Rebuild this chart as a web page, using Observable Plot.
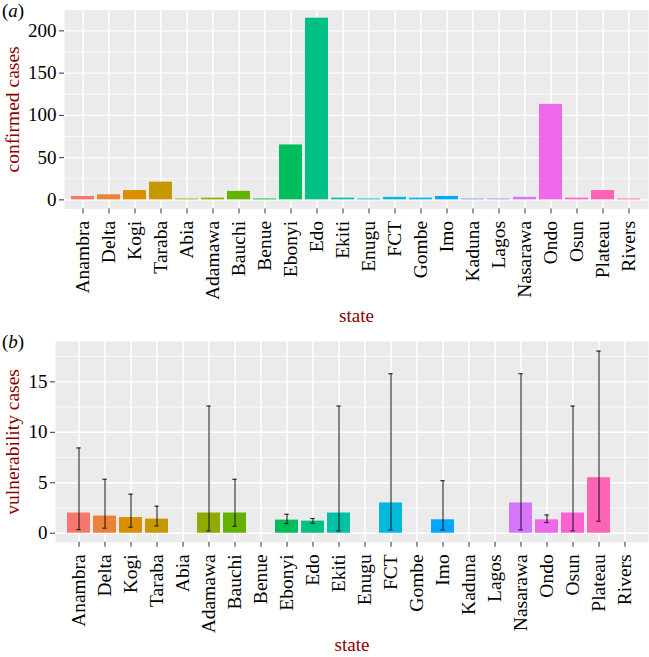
<!DOCTYPE html>
<html>
<head>
<meta charset="utf-8">
<script src="https://cdn.jsdelivr.net/npm/d3@7"></script>
<script src="https://cdn.jsdelivr.net/npm/@observablehq/plot@0.6"></script>
<style>
  html, body { margin: 0; padding: 0; background: white; }
  #wrap { position: relative; width: 649px; height: 657px; font-family: "Liberation Serif", serif; }
  #wrap svg { display: block; }
  #wrap svg text { font-family: "Liberation Serif", serif; }
  .panel-tag { position: absolute; left: 2px; font-size: 19px; color: black; line-height: 1; }
</style>
</head>
<body>
<div id="wrap">
  <div id="top"></div>
  <div id="bottom"></div>
  <div class="panel-tag" style="top:1px">(<i>a</i>)</div>
  <div class="panel-tag" style="top:332px">(<i>b</i>)</div>
</div>
<script>
// ---- data ----
const states = ["Anambra","Delta","Kogi","Taraba","Abia","Adamawa","Bauchi","Benue","Ebonyi","Edo","Ekiti","Enugu","FCT","Gombe","Imo","Kaduna","Lagos","Nasarawa","Ondo","Osun","Plateau","Rivers"];
const confirmed = [4, 6, 11, 21, 1, 2, 10, 1, 65, 215, 2, 1, 3, 2, 4, 1, 1, 3, 113, 2, 11, 1];
const vulnMean  = [2.0, 1.7, 1.55, 1.4, null, 2.0, 2.0, null, 1.3, 1.2, 2.0, null, 3.0, null, 1.33, null, null, 3.0, 1.33, 2.0, 5.5, null];
const vulnLower = [0.35, 0.5, 0.6, 0.72, null, 0.23, 0.69, null, 0.95, 0.99, 0.23, null, 0.33, null, 0.33, null, null, 0.33, 1.05, 0.23, 1.19, null];
const vulnUpper = [8.45, 5.35, 3.87, 2.68, null, 12.6, 5.35, null, 1.88, 1.45, 12.6, null, 15.8, null, 5.2, null, null, 15.8, 1.81, 12.6, 18.05, null];
const ticksA = [0, 50, 100, 150, 200];
const minorA = [25, 75, 125, 175];
const ticksB = [0, 5, 10, 15];
const minorB = [2.5, 7.5, 12.5, 17.5];

// ---- ggplot2 default hue palette (polar LUV, c=100, l=65) ----
function hclLuv(h, c, l) {
  const hr = h * Math.PI / 180;
  const U = c * Math.cos(hr), V = c * Math.sin(hr), L = l;
  const Y = 100 * (L > 7.999592 ? Math.pow((L + 16) / 116, 3) : L / 903.3);
  const u = U / (13 * L) + 0.1978398;
  const v = V / (13 * L) + 0.4683363;
  const X = 9.0 * Y * u / (4 * v);
  const Z = -X / 3 - 5 * Y + 3 * Y / v;
  const g = t => { t = t > 0.00304 ? 1.055 * Math.pow(t, 1 / 2.4) - 0.055 : 12.92 * t; return Math.max(0, Math.min(1, t)); };
  const r = g(( 3.240479 * X - 1.537150 * Y - 0.498535 * Z) / 100);
  const gg = g((-0.969256 * X + 1.875992 * Y + 0.041556 * Z) / 100);
  const b = g(( 0.055648 * X - 0.204043 * Y + 1.057311 * Z) / 100);
  return d3.rgb(r * 255, gg * 255, b * 255).formatHex();
}
const n = states.length;
const palette = d3.range(n).map(i => hclLuv((15 + i * 360 / n) % 360, 100, 65));

const dataA = states.map((s, i) => ({state: s, value: confirmed[i]}));
const dataB = states.map((s, i) => ({state: s, mean: vulnMean[i], lo: vulnLower[i], hi: vulnUpper[i]})).filter(d => d.mean != null);

const FONT = '"Liberation Serif", serif';
const TITLE = "#8B0000";

function panel({data, marginLeft, marginTop, marginBottom, height, yDomain, ticks, minor, ytitle, yfield, titleDy, errors}) {
  const marks = [
    Plot.frame({fill: "#EBEBEB", stroke: null}),
    Plot.ruleY(minor, {stroke: "white", strokeWidth: 0.7}),
    Plot.gridY({ticks, stroke: "white", strokeOpacity: 1, strokeWidth: 1.4}),
    Plot.gridX({stroke: "white", strokeOpacity: 1, strokeWidth: 1.4}),
    Plot.barY(data, {x: "state", y: yfield, fill: "state"})
  ];
  if (errors) {
    marks.push(
      Plot.ruleX(data, {x: "state", y1: "lo", y2: "hi", stroke: "#111", strokeWidth: 1}),
      Plot.tickY(data, {x: "state", y: "lo", stroke: "#111", strokeWidth: 1, insetLeft: 9.3, insetRight: 9.3}),
      Plot.tickY(data, {x: "state", y: "hi", stroke: "#111", strokeWidth: 1, insetLeft: 9.3, insetRight: 9.3})
    );
  }
  marks.push(
    Plot.axisY({ticks, tickSize: 5, tickPadding: 3, fontSize: 19, fontFamily: FONT, stroke: "#333", label: null}),
    Plot.axisX({tickRotate: -90, tickSize: 5, tickPadding: 7, fontSize: 19.5, fontFamily: FONT, stroke: "#333", label: null}),
    Plot.text([ytitle], {frameAnchor: "left", textAnchor: "middle", lineAnchor: "middle", dx: -(marginLeft - 12), rotate: -90, fill: TITLE, fontSize: 19.5, fontFamily: FONT}),
    Plot.text(["state"], {frameAnchor: "bottom", textAnchor: "middle", lineAnchor: "middle", dy: titleDy, fill: TITLE, fontSize: 19, fontFamily: FONT})
  );
  return Plot.plot({
    width: 649, height, marginTop, marginBottom, marginLeft, marginRight: 1,
    style: {fontFamily: FONT, fontSize: "16px", color: "black", background: "white", overflow: "visible"},
    x: {type: "band", domain: states, paddingInner: 0.1, paddingOuter: 0.15, align: 0.5, label: null},
    y: {domain: yDomain, label: null},
    color: {domain: states, range: palette},
    marks
  });
}

document.getElementById("top").append(panel({
  data: dataA, marginLeft: 64, marginTop: 9.5, marginBottom: 121.6, height: 330,
  yDomain: [-10.7, 224.7], ticks: ticksA, minor: minorA, ytitle: "confirmed cases", yfield: "value",
  titleDy: 107, errors: false
}));
document.getElementById("bottom").append(panel({
  data: dataB, marginLeft: 55, marginTop: 11, marginBottom: 115.2, height: 327,
  yDomain: [-0.9, 19.0], ticks: ticksB, minor: minorB, ytitle: "vulnerability cases", yfield: "mean",
  titleDy: 102.5, errors: true
}));
</script>
</body>
</html>
